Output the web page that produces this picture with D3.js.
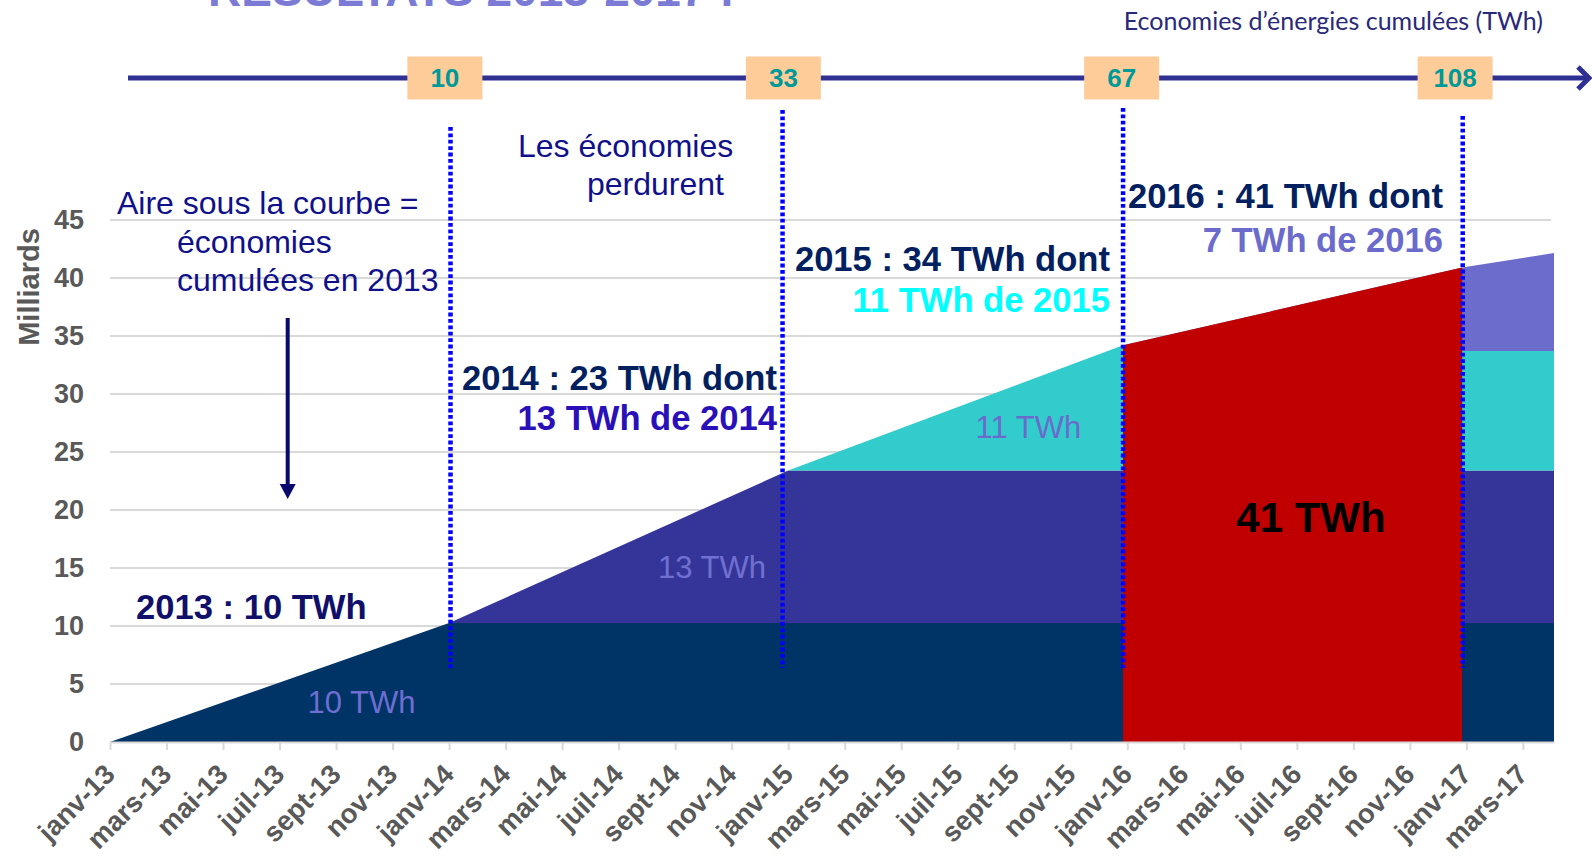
<!DOCTYPE html>
<meta charset="utf-8">
<style>
body { margin: 0; background: #fff; }
svg text { font-family: "Liberation Sans", Arial, sans-serif; }
.grid line { stroke: #d9d9d9; stroke-width: 2; }
.axis--x .domain, .axis--x .tick line { stroke: #d9d9d9; stroke-width: 2; }
.axis--x text, .axis--y text { font-weight: bold; fill: #595959; }
.axis--y .domain { display: none; }
</style>
<svg width="1592" height="856"></svg>
<script src="https://cdn.jsdelivr.net/npm/d3@7"></script>
<script>

// mois écoulés depuis janv-13
var knots   = [0, 12, 24, 35.85, 47.85, 51.1];
var eco2013 = [0, 10.25, 10.25, 10.25, 10.25, 10.25];
var eco2014 = [0, 0, 13.15, 13.15, 13.15, 13.15];
var eco2015 = [0, 0, 0, 10.8, 10.3, 10.3];
var eco2017 = [0, 0, 0, 0, 7.2, 8.45];

// année 2016 (en rouge)
var months2016 = [35.85, 47.85];
var eco2016 = [34.2, 40.9];

var tickLabels = ["janv-13","mars-13","mai-13","juil-13","sept-13","nov-13",
  "janv-14","mars-14","mai-14","juil-14","sept-14","nov-14",
  "janv-15","mars-15","mai-15","juil-15","sept-15","nov-15",
  "janv-16","mars-16","mai-16","juil-16","sept-16","nov-16",
  "janv-17","mars-17"];
var yTicks = [0, 5, 10, 15, 20, 25, 30, 35, 40, 45];

// frise du haut : économies cumulées (TWh)
var yearMarks = [12.05, 23.8, 35.85, 47.87];
var boxMonths = [11.85, 23.83, 35.8, 47.6];
var cumulTWh = ["10", "33", "67", "108"];

var svg = d3.select("svg");

var x = d3.scaleLinear().domain([0, 51.1]).range([110, 1554]),
    y = d3.scaleLinear().domain([0, 45]).range([742, 220]);

var colors = {eco2013: "#003366", eco2014: "#353599", eco2015: "#33cccc", eco2017: "#6c6ccc"};
var keys = ["eco2013", "eco2014", "eco2015", "eco2017"];

var rows = knots.map(function(m, i) {
  return {m: m, eco2013: eco2013[i], eco2014: eco2014[i], eco2015: eco2015[i], eco2017: eco2017[i]};
});

// titre (coupé en haut)
svg.append("text")
  .attr("x", 208).attr("y", 6)
  .style("font-size", "46px").style("font-weight", "bold")
  .attr("fill", "#7b7bd6")
  .text("RESULTATS 2013-2017 :");

// grille
svg.append("g").attr("class", "grid")
  .selectAll("line")
  .data(yTicks.slice(1))
  .enter().append("line")
    .attr("x1", x(0)).attr("x2", x(51))
    .attr("y1", function(d) { return y(d); })
    .attr("y2", function(d) { return y(d); });

// aires empilées
var stack = d3.stack().keys(keys)(rows);

var area = d3.area()
    .x(function(d) { return x(d.data.m); })
    .y0(function(d) { return y(d[0]); })
    .y1(function(d) { return y(d[1]); });

svg.append("g").selectAll("path")
  .data(stack)
  .enter().append("path")
    .attr("fill", function(d) { return colors[d.key]; })
    .attr("d", area);

var red = months2016.map(function(m, i) { return {m: m, v: eco2016[i]}; });
svg.append("path")
  .datum(red)
  .attr("fill", "#c00000")
  .attr("d", d3.area()
    .x(function(d) { return x(d.m); })
    .y0(y(0) + 1)
    .y1(function(d) { return y(d.v); }));

// axes
svg.append("g")
  .attr("class", "axis axis--x")
  .attr("transform", "translate(0," + y(0) + ")")
  .call(d3.axisBottom(x)
    .tickValues(d3.range(0, 51, 2))
    .tickFormat(function(d, i) { return tickLabels[i]; })
    .tickSize(8).tickSizeOuter(0))
  .selectAll("text")
    .style("font-size", "27.5px")
    .attr("text-anchor", "end")
    .attr("y", 0).attr("dy", 0)
    .attr("transform", "translate(6,34) rotate(-45)");

svg.append("g")
  .attr("class", "axis axis--y")
  .attr("transform", "translate(" + x(0) + ",0)")
  .call(d3.axisLeft(y).tickValues(yTicks).tickSize(0).tickPadding(26))
  .selectAll("text")
    .style("font-size", "27px");

svg.append("text")
  .attr("transform", "translate(39,287) rotate(-90)")
  .attr("text-anchor", "middle")
  .style("font-size", "29px").style("font-weight", "bold")
  .attr("fill", "#595959")
  .text("Milliards");

// lignes pointillées des années
var dotTops = [127, 110, 108, 116];
svg.append("g").selectAll("line")
  .data(yearMarks)
  .enter().append("line")
    .attr("x1", function(d) { return x(d); })
    .attr("x2", function(d) { return x(d); })
    .attr("y1", function(d, i) { return dotTops[i]; })
    .attr("y2", 668)
    .attr("stroke", "#0000ff")
    .attr("stroke-width", 4.5)
    .attr("stroke-dasharray", "3.8,2.6");

// frise
svg.append("line")
  .attr("x1", 128).attr("x2", 1588)
  .attr("y1", 78).attr("y2", 78)
  .attr("stroke", "#2e3092").attr("stroke-width", 5);
svg.append("path")
  .attr("d", "M1578,67 L1589,78 L1578,89")
  .attr("fill", "none").attr("stroke", "#2e3092").attr("stroke-width", 5);

var box = svg.append("g").selectAll("g")
  .data(cumulTWh)
  .enter().append("g")
    .attr("transform", function(d, i) { return "translate(" + x(boxMonths[i]) + ",78)"; });
box.append("rect")
  .attr("x", -37.5).attr("y", -21.5).attr("width", 75).attr("height", 43)
  .attr("fill", "#fecc99");
box.append("text")
  .attr("text-anchor", "middle").attr("dy", "0.36em")
  .style("font-family", "'Liberation Sans Narrow', 'Arial Narrow', sans-serif")
  .style("font-size", "26px").style("font-weight", "bold")
  .attr("fill", "#009999")
  .text(function(d) { return d; });

svg.append("text")
  .attr("x", 1543).attr("y", 30)
  .attr("text-anchor", "end")
  .style("font-family", "Lato, sans-serif").style("font-size", "25px")
  .attr("fill", "#29297a")
  .text("Economies d\u2019énergies cumulées (TWh)");

// annotations
function note(xp, yp, txt, size, weight, color, anchor) {
  svg.append("text")
    .attr("x", xp).attr("y", yp)
    .attr("text-anchor", anchor || "start")
    .style("font-size", size + "px").style("font-weight", weight)
    .attr("fill", color)
    .text(txt);
}

note(117, 214, "Aire sous la courbe =", 32, "normal", "#10108a");
note(177, 253, "économies", 32, "normal", "#10108a");
note(177, 291, "cumulées en 2013", 32, "normal", "#10108a");

svg.append("line")
  .attr("x1", 287.7).attr("x2", 287.7).attr("y1", 318).attr("y2", 486)
  .attr("stroke", "#0a0a6e").attr("stroke-width", 4);
svg.append("path")
  .attr("d", "M279.7,484 L295.7,484 L287.7,499 Z")
  .attr("fill", "#0a0a6e");

note(518, 157, "Les économies", 32, "normal", "#10108a");
note(587, 195, "perdurent", 32, "normal", "#10108a");

note(136, 619, "2013 : 10 TWh", 34.6, "bold", "#10106b");
note(777, 390, "2014 : 23 TWh dont", 34.6, "bold", "#002060", "end");
note(777, 430, "13 TWh de 2014", 34.6, "bold", "#2a10b8", "end");
note(1110, 271, "2015 : 34 TWh dont", 34.6, "bold", "#002060", "end");
note(1110, 312, "11 TWh de 2015", 34.6, "bold", "#00ffff", "end");
note(1443, 208, "2016 : 41 TWh dont", 34.6, "bold", "#002060", "end");
note(1443, 252, "7 TWh de 2016", 34.6, "bold", "#6b6bcc", "end");

// étiquettes des aires
var areaLabels = [
  {m: 8.9, v: 2.5, t: "10 TWh", size: 31, w: "normal", c: "#6e6ed0"},
  {m: 21.3, v: 14.1, t: "13 TWh", size: 31, w: "normal", c: "#7070d0"},
  {m: 32.5, v: 26.2, t: "11 TWh", size: 31, w: "normal", c: "#6b6bcc"},
  {m: 42.5, v: 18.1, t: "41 TWh", size: 42, w: "bold", c: "#000"}
];
areaLabels.forEach(function(d) {
  note(x(d.m), y(d.v), d.t, d.size, d.w, d.c, "middle");
});

</script>
